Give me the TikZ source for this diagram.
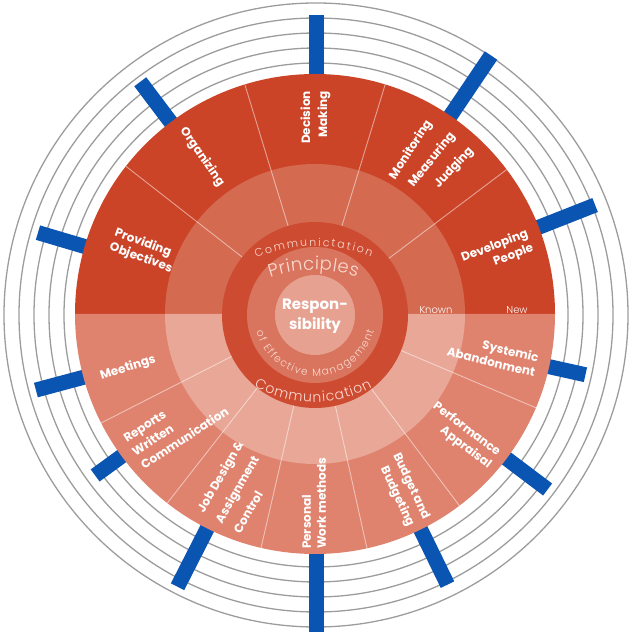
\documentclass[tikz,border=0pt]{standalone}
\usepackage{fontspec}
\setmainfont{Poppins}
\newfontfamily\thinf{Poppins Light}
\usetikzlibrary{decorations.text}
\definecolor{topout}{HTML}{CB4428}
\definecolor{topin}{HTML}{D46A50}
\definecolor{botout}{HTML}{DF836E}
\definecolor{botin}{HTML}{E9A797}
\definecolor{darkring}{HTML}{CD4B30}
\definecolor{prinring}{HTML}{D9755E}
\definecolor{disc}{HTML}{E6A190}
\definecolor{lighttext}{HTML}{FADBD2}
\definecolor{barblue}{HTML}{0B55B2}
\definecolor{ringgray}{HTML}{9C9C9C}
\tikzset{
  ringline/.style={draw=ringgray,line width=1.3pt},
  bluebar/.style={draw=barblue,line width=15pt},
  divider/.style={draw=white,draw opacity=0.5,line width=0.9pt},
  lbl/.style={text=white,inner sep=0pt,font=\bfseries\fontsize{12}{15}\selectfont},
  small/.style={text=white,inner sep=0pt,font=\thinf\fontsize{10}{10}\selectfont},
}
\begin{document}
\begin{tikzpicture}[x=1pt,y=1pt]
\useasboundingbox (0,0) rectangle (632,632);
\clip (0,0) rectangle (632,632);
% outer rings
\foreach \r in {252,267,282,297,312}
  \draw[ringline] (316,317) circle[radius=\r];
% blue bars
\foreach \a/\r in {90/300,56/313,21.5/300,-12.5/276,-37/290,-64/300,-90/340,-117/305,-144/273,-165/290,163.5/290,127/292}
  \draw[bluebar,shift={(316,317)}] (\a:225) -- (\a:\r);
% wheel
\fill[topout,shift={(315,318)}] (240,0) arc[start angle=0,end angle=180,radius=240] -- cycle;
\fill[botout,shift={(315,318)}] (-240,0) arc[start angle=180,end angle=360,radius=240] -- cycle;
\fill[topin,shift={(315,318)}] (150,0) arc[start angle=0,end angle=180,radius=150] -- cycle;
\fill[botin,shift={(315,318)}] (-150,0) arc[start angle=180,end angle=360,radius=150] -- cycle;
\foreach \a in {37,73,107,142,-23,-53,-77.5,-103,-128,-153}
  \draw[divider,shift={(315,318)}] (\a:90) -- (\a:240);
% centre
\fill[darkring] (315,317) circle[radius=93];
\fill[prinring] (315,317) circle[radius=68];
\fill[disc] (315,317) circle[radius=40];
% arc texts
\path[shift={(315,236)},decorate,decoration={text along path,text align=fit to path,
  text={|\thinf\fontsize{11}{11}\selectfont\color{lighttext}|Communictation}}]
  (113:150) arc[start angle=113,end angle=68,radius=150];
\path[shift={(314,227)},decorate,decoration={text along path,text align=fit to path,
  text={|\thinf\fontsize{18}{18}\selectfont\color{lighttext}|Principles}}]
  (109:135) arc[start angle=109,end angle=71.5,radius=135];
\path[shift={(315,317)},decorate,decoration={text along path,text align=fit to path,
  text={|\thinf\fontsize{10.5}{10.5}\selectfont\color{lighttext}|of Effective Management}}]
  (196:61) arc[start angle=196,end angle=345,radius=61];
\path[shift={(314,350)},decorate,decoration={text along path,text align=fit to path,
  text={|\thinf\fontsize{14}{14}\selectfont\color{lighttext}|Communication}}]
  (240:120) arc[start angle=240,end angle=299,radius=120];
\node[lbl,font=\bfseries\fontsize{15}{20}\selectfont,align=center] (resp) at (315,316) {Respon-\\sibility};
% top labels
\node[lbl,align=left,rotate=-20] (prov) at (143.5,381) {Providing\\Objectives};
\node[lbl,rotate=-55] (org) at (202,475) {Organizing};
\node[lbl,align=right,rotate=90,font=\bfseries\fontsize{12}{17}\selectfont] (dec) at (315.5,514.5) {Decision\\Making};
\node[lbl,rotate=57] (mon) at (411,482) {Monitoring};
\node[lbl,rotate=51] (mea) at (432,472) {Measuring};
\node[lbl,rotate=47] (jud) at (454,464) {Judging};
\node[lbl,align=right,rotate=21] (dev) at (497.5,378.6) {Developing\\People};
\node[small] (known) at (436,322) {Known};
\node[small] (new) at (517,322) {New};
% bottom labels
\node[lbl,rotate=17.6] (meet) at (128,264) {Meetings};
\node[lbl,align=left,rotate=33,font=\bfseries\fontsize{12}{16}\selectfont] (rep) at (176,207) {Reports\\Written\\Communication};
\node[lbl,align=left,rotate=60,font=\bfseries\fontsize{12}{21}\selectfont] (job) at (238,145) {Job Design \&\\Assignment\\Control};
\node[lbl,align=left,rotate=90] (pers) at (314,128.5) {Personal\\Work methods};
\node[lbl,align=right,rotate=-65,font=\bfseries\fontsize{12}{17}\selectfont] (bud) at (403,142) {Budget and\\Budgeting};
\node[lbl,align=right,rotate=-37] (perf) at (462,196.5) {Performance\\Appraisal};
\node[lbl,align=right,rotate=-13.5] (sys) at (493,277.5) {Systemic\\Abandonment};
\end{tikzpicture}
\end{document}
